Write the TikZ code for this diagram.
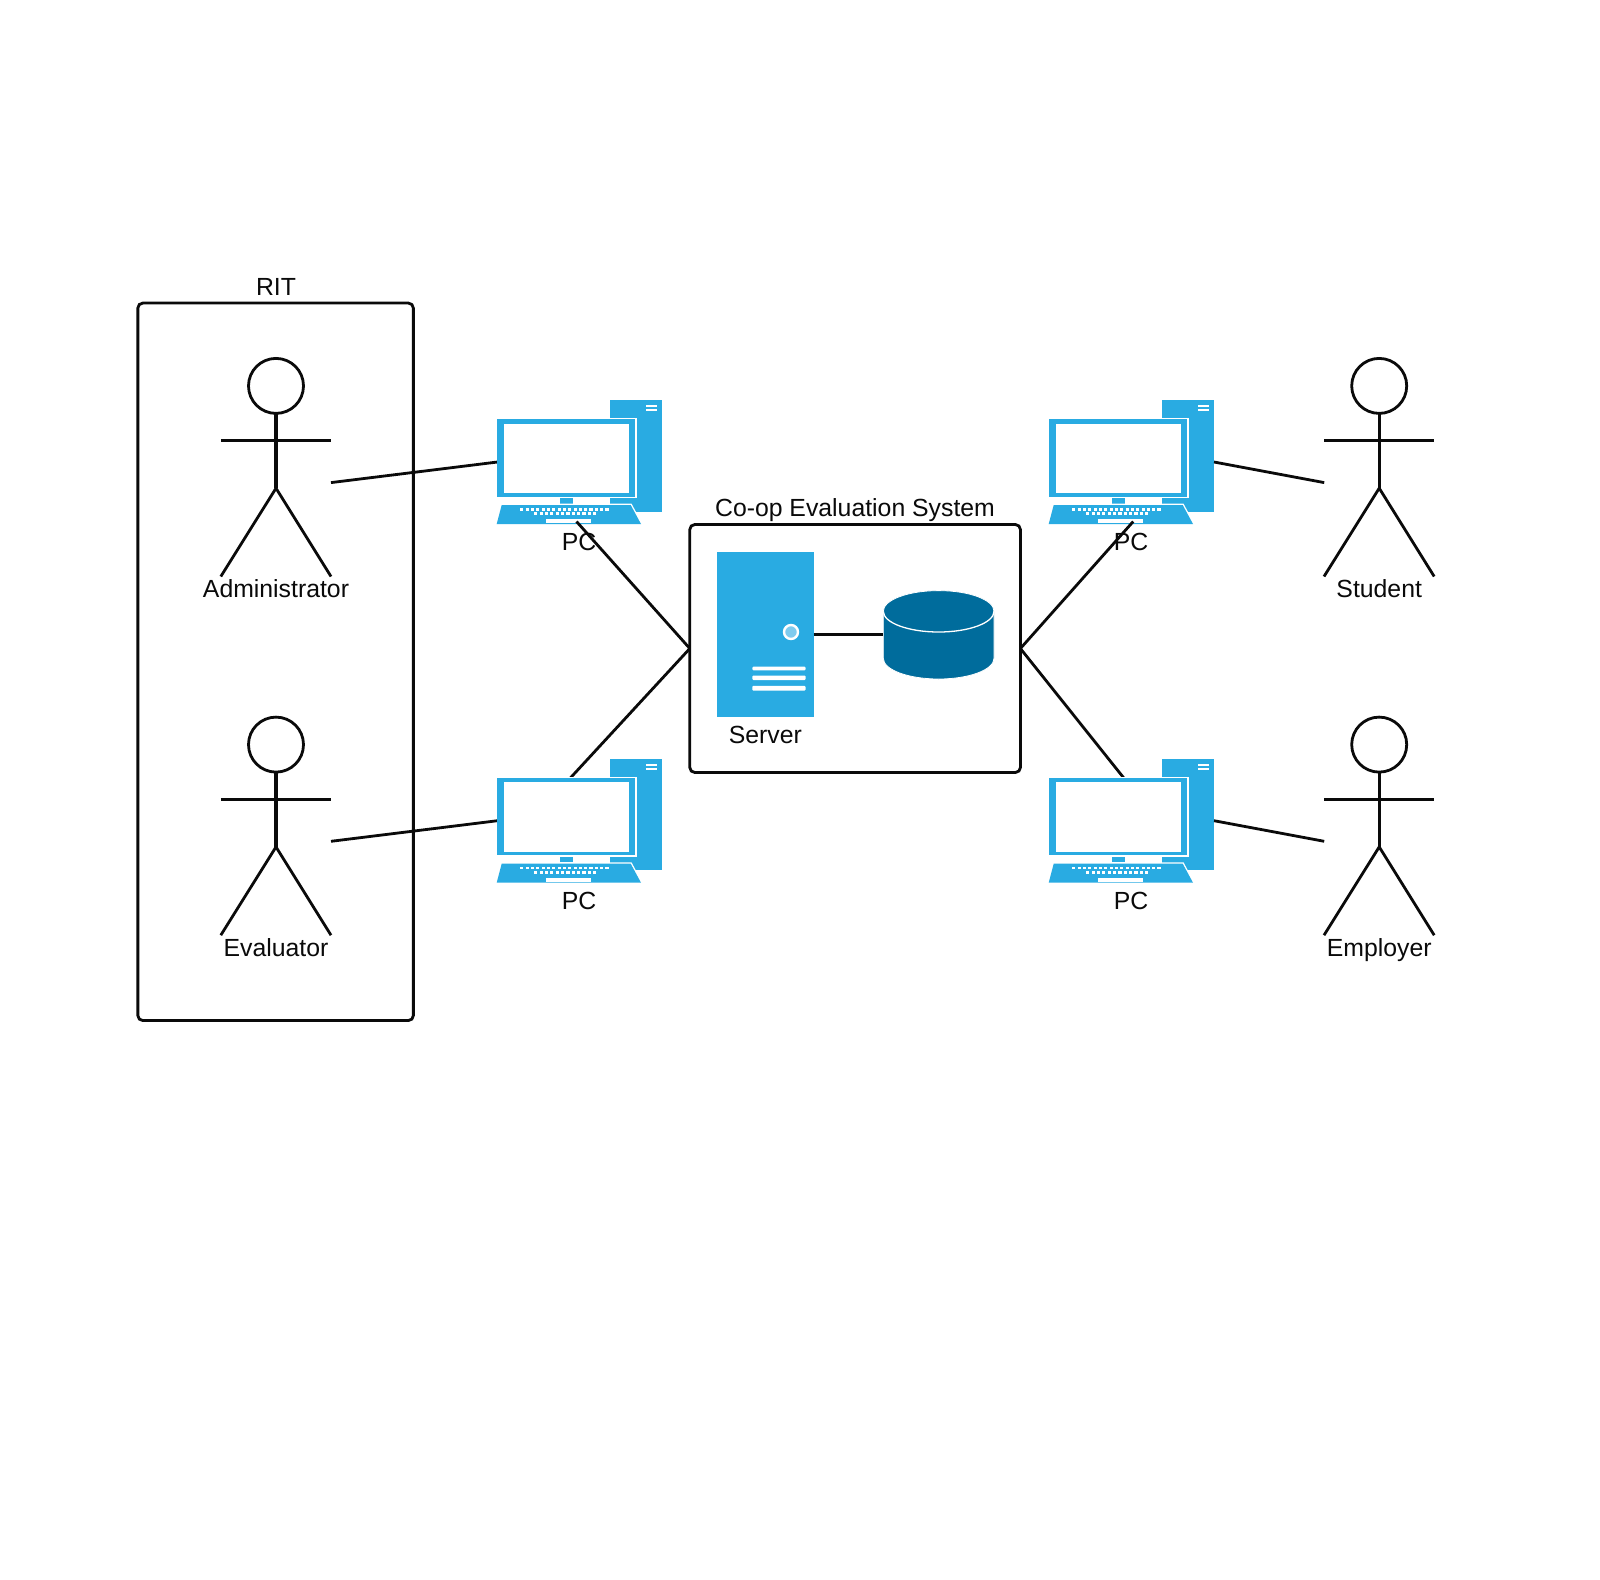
\documentclass[tikz,border=0pt]{standalone}
\usepackage{fontspec}
\setmainfont{Liberation Sans}
\definecolor{pcblue}{HTML}{29ABE2}
\definecolor{dbblue}{HTML}{006C9C}
\definecolor{lampblue}{HTML}{7FCBEE}
\definecolor{inkblack}{HTML}{0A0A0A}
\tikzset{
  wire/.style={draw=inkblack,line width=2.8pt},
  frame/.style={draw=inkblack,line width=2.8pt,rounded corners=5pt,fill=none},
  lbl/.style={font=\fontsize{24.8}{28}\selectfont,text=inkblack,inner sep=0pt,anchor=center},
  bound/.style={draw=none,fill=none,inner sep=0pt,outer sep=0pt,rectangle},
  stick/.style={draw=inkblack,line width=2.8pt,line cap=butt},
  hair/.style={draw=white,line width=1.3pt}
}
% actor: name, dx, dy, label
\newcommand{\actorfig}[4]{%
  \begin{scope}[shift={(#2,#3)}]
    \node[bound,minimum width=110pt,minimum height=248.8pt] (#1) at (276,482.6) {};
    \node[stick,circle,minimum size=55pt,inner sep=0pt,outer sep=0pt] (#1head) at (276,385.9) {};
    \coordinate (#1hip) at (276,488.2);
    \coordinate (#1armL) at (220.8,440.4);
    \coordinate (#1armR) at (331,440.4);
    \coordinate (#1footL) at (220.8,576.5);
    \coordinate (#1footR) at (331,576.5);
    \draw[stick,line width=3.1pt] (#1head.south) -- (#1hip);
    \draw[stick] (#1armL) -- (#1armR);
    \draw[stick] (#1footL) -- (#1hip) -- (#1footR);
    \node[lbl] (#1label) at (276,592.2) {\strut #4};
  \end{scope}}
% computer: name, dx, dy
\newcommand{\pcfig}[3]{%
  \begin{scope}[shift={(#2,#3)}]
    \node[bound,minimum width=165pt,minimum height=124pt] (#1) at (579.5,462) {};
    \fill[pcblue] (610,400) rectangle (662,511.7);
    \fill[white] (646,405.2) rectangle (657,407);
    \fill[white] (646,409.2) rectangle (657,411);
    \fill[white] (496.5,418.4) rectangle (637,498);
    \fill[pcblue] (497.3,419.2) rectangle (634.5,496.6);
    \fill[white] (504,423.7) rectangle (629,493);
    \fill[white] (496,498) rectangle (610,506);
    \fill[white] (610,497) rectangle (636,498.4);
    \fill[pcblue] (560,498.4) rectangle (573.3,503.7);
    \fill[white] (500,503.6) -- (631.5,503.6) -- (643,525) -- (495,525) -- cycle;
    \fill[pcblue] (501.7,505) -- (630.7,505) -- (641,524) -- (496.7,524) -- cycle;
    \foreach \k in {0,...,16}{\fill[white] ({520.2+\k*5.33},507.8) rectangle +(3.2,2.7);}
    \foreach \k in {0,...,11}{\fill[white] ({534.2+\k*5.36},512.1) rectangle +(3.2,2.7);}
    \fill[white] (545.7,519.3) rectangle (591,523);
    \node[lbl] (#1label) at (579,545.2) {\strut PC};
  \end{scope}}
\begin{document}
\begin{tikzpicture}[x=1pt,y=-1pt]
  \useasboundingbox (0,0) rectangle (1600,1579);
  \fill[white] (0,0) rectangle (1600,1579);

  % boxes
  \node[frame,rectangle,minimum width=275.5pt,minimum height=717.5pt,outer sep=0pt] (rit) at (275.6,661.8) {};
  \node[lbl] (ritlabel) at (276,290) {\strut RIT};
  \node[frame,rectangle,minimum width=330.6pt,minimum height=248pt,outer sep=0pt] (sys) at (855.1,648.5) {};
  \node[lbl] (syslabel) at (855,510.7) {\strut Co-op Evaluation System};

  % actors
  \actorfig{admin}{0}{0}{Administrator}
  \actorfig{evalr}{0}{358.7}{Evaluator}
  \actorfig{student}{1103.2}{0}{Student}
  \actorfig{employer}{1103.2}{358.7}{Employer}

  % free ends of connectors on the PCs
  \coordinate (tlend) at (576.5,521.5);
  \coordinate (trend) at (1133.2,521.5);
  \coordinate (blend) at (569.4,779);
  \coordinate (brend) at (1124.6,779);

  % connectors below the computers
  \draw[wire] (admin.east) -- (497.5,462);
  \draw[wire] (evalr.east) -- (497.5,820.7);
  \draw[wire] (sys.west) -- (blend);
  \draw[wire] (sys.east) -- (brend);

  % computers
  \pcfig{pca}{0}{0}
  \pcfig{pcb}{0}{358.7}
  \pcfig{pcc}{552}{0}
  \pcfig{pcd}{552}{358.7}

  % connectors above the computers
  \draw[wire] (pcc.east) -- (student.west);
  \draw[wire] (pcd.east) -- (employer.west);
  \draw[wire] (sys.west) -- (tlend);
  \draw[wire] (sys.east) -- (trend);

  % server
  \node[rectangle,fill=pcblue,draw=none,minimum width=96.4pt,minimum height=165.3pt,inner sep=0pt,outer sep=0pt] (server) at (765.5,634.6) {};
  \node[circle,fill=lampblue,draw=white,line width=2.4pt,minimum size=14pt,inner sep=0pt] (lamp) at (791,632) {};
  \foreach \ya/\yb in {666.7/670.3,675.5/680,685.8/690.7}{
    \fill[white,rounded corners=1pt] (752.3,\ya) rectangle (805.5,\yb);
  }
  \node[lbl] (serverlabel) at (765.3,738) {\strut Server};

  % database
  \node[bound,minimum width=110.7pt,minimum height=88.3pt] (db) at (938.6,634.6) {};
  \fill[dbblue,draw=white,line width=0.8pt]
    (883.3,611.3) -- (883.3,658.3) arc[start angle=180,end angle=360,x radius=55.35pt,y radius=20.7pt]
    -- (994,611.3) arc[start angle=0,end angle=180,x radius=55.35pt,y radius=20.7pt] -- cycle;
  \draw[hair] (883.3,611.3) arc[start angle=180,end angle=360,x radius=55.35pt,y radius=20.7pt];
  \draw[wire] (server.east) -- (db.west);
\end{tikzpicture}
\end{document}
